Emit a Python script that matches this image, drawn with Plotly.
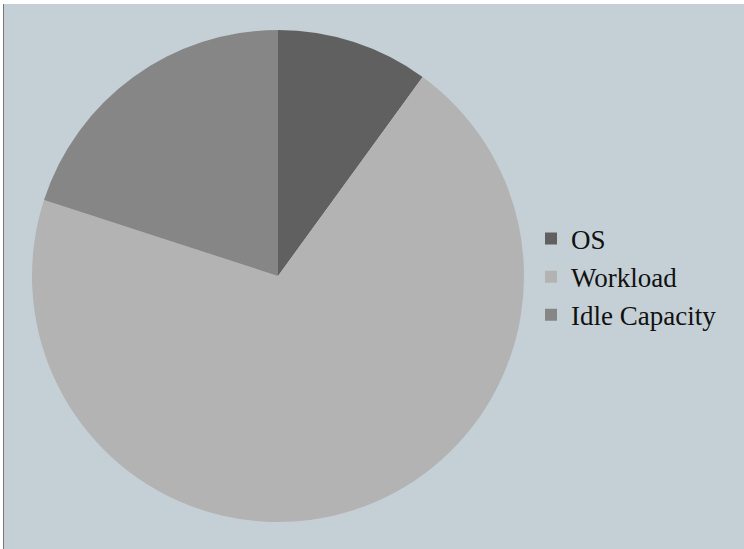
import plotly.graph_objects as go

labels = ["OS", "Workload", "Idle Capacity"]
values = [10, 70, 20]
colors = ["#606060", "#b3b3b3", "#868686"]

W, H = 744, 549
fig = go.Figure(go.Pie(
    labels=labels, values=values, sort=False, direction="clockwise", rotation=0,
    marker=dict(colors=colors, line=dict(width=0)),
    textinfo="none", hoverinfo="label+percent",
    domain=dict(x=[32 / W, 524 / W], y=[(H - 522) / H, (H - 30) / H]),
))
fig.update_layout(
    width=W, height=H,
    margin=dict(l=0, r=0, t=0, b=0),
    paper_bgcolor="#c5d0d6",
    font=dict(family="Liberation Serif, DejaVu Serif, serif", size=27, color="#111111"),
    legend=dict(x=531 / W, y=1 - 277 / H, xanchor="left", yanchor="middle",
                bgcolor="rgba(0,0,0,0)", font=dict(size=27)),
    shapes=[
        dict(type="rect", xref="paper", yref="paper", x0=0, x1=1, y0=1 - 4 / H, y1=1,
             fillcolor="white", line=dict(width=0), layer="below"),
        dict(type="rect", xref="paper", yref="paper", x0=0, x1=3 / W, y0=0, y1=1,
             fillcolor="white", line=dict(width=0), layer="below"),
        dict(type="rect", xref="paper", yref="paper", x0=3 / W, x1=4 / W, y0=0, y1=1 - 4 / H,
             fillcolor="#777777", line=dict(width=0), layer="below"),
    ],
)
fig.write_html("out.html", config={"displayModeBar": False},
               post_script="document.body.style.margin='0';")
